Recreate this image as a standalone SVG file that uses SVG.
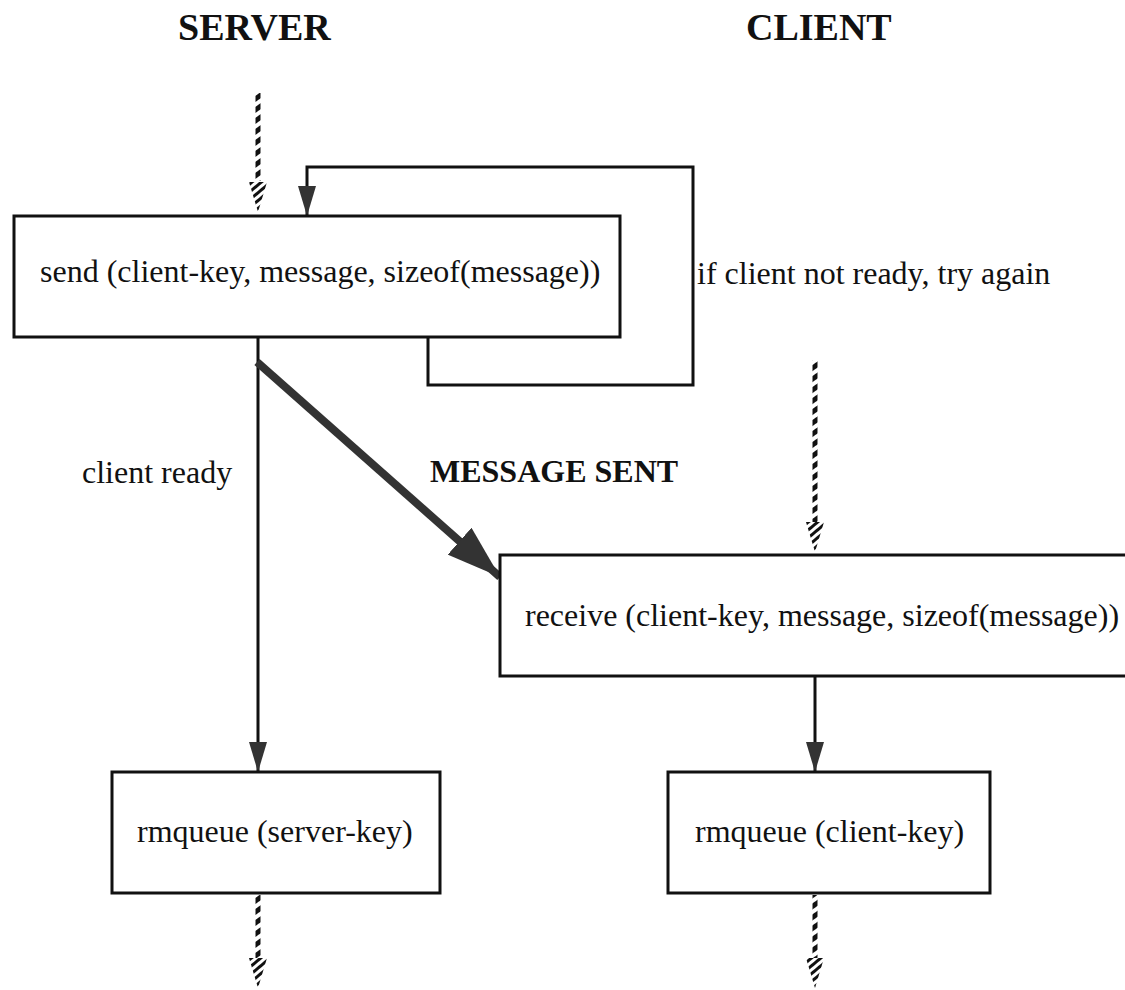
<svg xmlns="http://www.w3.org/2000/svg" width="1125" height="990" viewBox="0 0 1125 990">
<style>
.box{fill:#fff;stroke:#111;stroke-width:3}
.lbl{font-family:"Liberation Serif","Times New Roman",serif;font-size:32px;fill:#111}
.bold{font-weight:bold}
.title{font-family:"Liberation Serif","Times New Roman",serif;font-size:38px;font-weight:bold;fill:#111}
.ln{fill:none;stroke:#111;stroke-width:3}
</style>
<defs>
<pattern id="hatch" patternUnits="userSpaceOnUse" width="9" height="9" patternTransform="rotate(-35)">
<rect x="0" y="0" width="9" height="5" fill="#111"/>
</pattern>
<pattern id="hatch2" patternUnits="userSpaceOnUse" width="6" height="6" patternTransform="rotate(-40)">
<rect x="0" y="0" width="6" height="3" fill="#111"/>
</pattern>
<marker id="arr" viewBox="0 0 30 18" refX="30" refY="9" markerWidth="30" markerHeight="18" markerUnits="userSpaceOnUse" orient="auto">
<path d="M0,0 L30,9 L0,18 Z" fill="#333"/>
</marker>
<marker id="arrBig" viewBox="0 0 54 36" refX="54" refY="18" markerWidth="54" markerHeight="36" markerUnits="userSpaceOnUse" orient="auto">
<path d="M0,0 L54,18 L0,36 Z" fill="#333"/>
</marker>
</defs>

<g id="titles">
<text class="title" x="178" y="40">SERVER</text>
<text class="title" x="746" y="40">CLIENT</text>
</g>

<g id="connectors">
<!-- server incoming dashed -->
<rect x="255.5" y="93" width="5" height="88" fill="url(#hatch)"/>
<path d="M249,182 L267,182 L258,212 Z" fill="url(#hatch2)"/>
<!-- retry loop -->
<path class="ln" d="M428,337 L428,385 L693,385 L693,167 L307,167 L307,216" marker-end="url(#arr)"/>
<!-- client ready -->
<path class="ln" d="M258,337 L258,772" marker-end="url(#arr)"/>
<!-- message sent -->
<path d="M257,362 L500,577" fill="none" stroke="#333" stroke-width="8" marker-end="url(#arrBig)"/>
<!-- client incoming dashed -->
<rect x="812.5" y="360" width="5" height="162" fill="url(#hatch)"/>
<path d="M806,522 L824,522 L815,552 Z" fill="url(#hatch2)"/>
<!-- receive to rmqueue -->
<path class="ln" d="M815,677 L815,772" marker-end="url(#arr)"/>
<!-- bottom dashed -->
<rect x="255.5" y="895" width="5" height="63" fill="url(#hatch)"/>
<path d="M249,958 L267,958 L258,988 Z" fill="url(#hatch2)"/>
<rect x="812.5" y="895" width="5" height="63" fill="url(#hatch)"/>
<path d="M806,958 L824,958 L815,988 Z" fill="url(#hatch2)"/>
</g>

<g id="send">
<rect class="box" x="14" y="216" width="606" height="121"/>
<text class="lbl" x="40" y="282">send (client-key, message, sizeof(message))</text>
</g>

<g id="retry-label">
<text class="lbl" x="697" y="284">if client not ready, try again</text>
</g>

<g id="client-ready-label">
<text class="lbl" x="82" y="483">client ready</text>
</g>

<g id="message-sent-label">
<text class="lbl bold" x="430" y="482">MESSAGE SENT</text>
</g>

<g id="receive">
<rect class="box" x="500" y="555" width="640" height="121"/>
<text class="lbl" x="525" y="626">receive (client-key, message, sizeof(message))</text>
</g>

<g id="rmqueue-server">
<rect class="box" x="112" y="772" width="328" height="121"/>
<text class="lbl" x="137" y="842">rmqueue (server-key)</text>
</g>

<g id="rmqueue-client">
<rect class="box" x="668" y="772" width="322" height="121"/>
<text class="lbl" x="695" y="842">rmqueue (client-key)</text>
</g>
</svg>
